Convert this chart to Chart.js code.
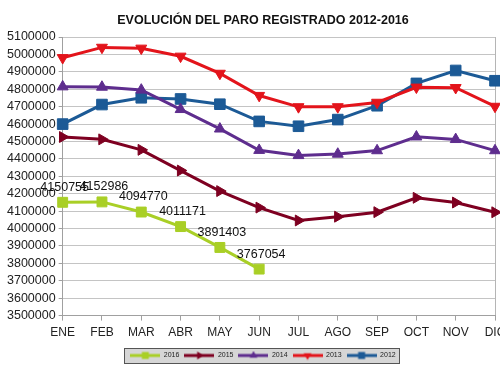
<!DOCTYPE html>
<html>
<head>
<meta charset="utf-8">
<script src="https://cdn.jsdelivr.net/npm/chart.js@4.4.1/dist/chart.umd.min.js"></script>
<style>
html,body{margin:0;padding:0;overflow:hidden;background:#fff;}
#wrap{width:522px;height:380px;}
</style>
</head>
<body>
<div id="wrap"><canvas id="c" width="522" height="380"></canvas></div>
<script>
const months = ['ENE','FEB','MAR','ABR','MAY','JUN','JUL','AGO','SEP','OCT','NOV','DIC'];
const seriesNames = ['2016','2015','2014','2013','2012'];
const v2016 = [4150755, 4152986, 4094770, 4011171, 3891403, 3767054];
const v2015 = [4525691, 4512153, 4451939, 4333016, 4215031, 4120304, 4046276, 4067955, 4094042, 4176369, 4149298, 4093508];
const v2014 = [4814435, 4812486, 4795866, 4684301, 4572385, 4449701, 4419860, 4427930, 4447650, 4526804, 4512000, 4447711];
const v2013 = [4980778, 5040222, 5035243, 4989193, 4890928, 4763680, 4698783, 4698814, 4724355, 4811383, 4808908, 4701338];
const v2012 = [4599829, 4712098, 4750867, 4744235, 4714122, 4615269, 4587455, 4625634, 4705279, 4833521, 4907817, 4848723];
const yTicksMin = 3500000, yTicksMax = 5100000, yStep = 100000;

const colors = ['#a9cf26', '#7e0021', '#5e2d8e', '#e3141b', '#1c5a96'];
const styles = [
  {ps: 'rect', rot: 0, r: 7},
  {ps: 'triangle', rot: 90, r: 6.3},
  {ps: 'triangle', rot: 0, r: 6.3},
  {ps: 'triangle', rot: 180, r: 6.3},
  {ps: 'rect', rot: 0, r: 7.5}
];
const allValues = [v2016, v2015, v2014, v2013, v2012];

function legendImage(color, st) {
  const cv = document.createElement('canvas');
  cv.width = 30; cv.height = 10;
  const g = cv.getContext('2d');
  g.strokeStyle = color; g.lineWidth = 3;
  g.beginPath(); g.moveTo(0, 5); g.lineTo(30, 5); g.stroke();
  g.fillStyle = color;
  const cx = 15, cy = 5, r = 3.5;
  g.beginPath();
  if (st.ps === 'rect') {
    g.rect(cx - r, cy - r, 2 * r, 2 * r);
  } else {
    let a = st.rot * Math.PI / 180;
    for (let k = 0; k < 3; k++) {
      const px = cx + Math.sin(a) * (r + 1), py = cy - Math.cos(a) * (r + 1);
      if (k === 0) g.moveTo(px, py); else g.lineTo(px, py);
      a += 2 * Math.PI / 3;
    }
    g.closePath();
  }
  g.fill();
  return cv;
}
const legendImgs = colors.map((c, i) => legendImage(c, styles[i]));

const datasets = seriesNames.map((n, i) => ({
  label: n,
  data: allValues[i],
  borderColor: colors[i],
  backgroundColor: colors[i],
  borderWidth: 3,
  pointStyle: styles[i].ps,
  rotation: styles[i].rot,
  pointRadius: styles[i].r,
  pointBorderWidth: 1,
  pointBackgroundColor: colors[i],
  pointBorderColor: colors[i],
  tension: 0,
  fill: false
}));

const legendBoxPlugin = {
  id: 'legendBox',
  beforeDraw(chart) {
    const lg = chart.legend;
    if (!lg || !lg.legendHitBoxes || !lg.legendHitBoxes.length) return;
    const hb = lg.legendHitBoxes;
    let l = Infinity, r = -Infinity, t = Infinity, b = -Infinity;
    hb.forEach(h => { l = Math.min(l, h.left); r = Math.max(r, h.left + h.width); t = Math.min(t, h.top); b = Math.max(b, h.top + h.height); });
    const ctx = chart.ctx;
    ctx.save();
    ctx.fillStyle = '#d6d6d6';
    ctx.strokeStyle = '#555';
    ctx.lineWidth = 1;
    const x0 = Math.round(l - 6) + 0.5, y0 = Math.round(t - 4) + 0.5;
    const w = Math.round(r - l + 10), h = Math.round(b - t + 8);
    ctx.fillRect(x0, y0, w, h);
    ctx.strokeRect(x0, y0, w, h);
    ctx.restore();
  }
};

const dataLabelPlugin = {
  id: 'dataLabels2016',
  afterDatasetsDraw(chart) {
    const meta = chart.getDatasetMeta(0);
    const ctx = chart.ctx;
    ctx.save();
    ctx.font = '12.5px "Liberation Sans", Arial, sans-serif';
    ctx.fillStyle = '#111';
    ctx.textAlign = 'center';
    ctx.textBaseline = 'middle';
    meta.data.forEach((pt, i) => {
      ctx.fillText(String(v2016[i]), pt.x + 2, pt.y - 15);
    });
    ctx.restore();
  }
};

new Chart(document.getElementById('c'), {
  type: 'line',
  data: { labels: months, datasets },
  plugins: [legendBoxPlugin, dataLabelPlugin],
  options: {
    responsive: false,
    animation: false,
    devicePixelRatio: 1,
    layout: { padding: { left: 4, top: 0, bottom: 11 } },
    plugins: {
      title: {
        display: true,
        text: 'EVOLUCIÓN DEL PARO REGISTRADO 2012-2016',
        color: '#111',
        font: { family: '"Liberation Sans", Arial, sans-serif', size: 12.5, weight: 'bold' },
        padding: { top: 13, bottom: 9 }
      },
      legend: {
        position: 'bottom',
        labels: {
          usePointStyle: true,
          pointStyleWidth: 30,
          boxHeight: 7,
          padding: 5,
          color: '#222',
          font: { family: '"Liberation Sans", Arial, sans-serif', size: 7 },
          generateLabels(chart) {
            return chart.data.datasets.map((ds, i) => ({
              text: ds.label,
              fillStyle: ds.borderColor,
              strokeStyle: ds.borderColor,
              lineWidth: 0,
              pointStyle: legendImgs[i],
              rotation: 0,
              hidden: false,
              datasetIndex: i,
              fontColor: '#222'
            }));
          }
        }
      },
      tooltip: { enabled: false }
    },
    scales: {
      x: {
        offset: false,
        grid: {
          display: true,
          drawOnChartArea: true,
          color: (ctx) => (ctx.index === 11 ? '#b5b5b5' : 'rgba(0,0,0,0)'),
          tickColor: '#a0a0a0',
          tickLength: 5
        },
        border: { display: true, color: '#a0a0a0' },
        ticks: {
          color: '#222',
          font: { family: '"Liberation Sans", Arial, sans-serif', size: 12 },
          padding: 5,
          maxRotation: 0,
          autoSkip: false
        },
        afterFit(scale) { scale.paddingRight = 27; scale.height += 2; }
      },
      y: {
        min: yTicksMin,
        max: yTicksMax,
        grid: { color: '#c4c4c4', tickColor: '#a0a0a0', tickLength: 4 },
        border: { display: true, color: '#a0a0a0' },
        ticks: {
          stepSize: yStep,
          autoSkip: false,
          color: '#222',
          padding: 3,
          font: { family: '"Liberation Sans", Arial, sans-serif', size: 12.5 },
          callback: (v) => String(v)
        }
      }
    }
  }
});
</script>
</body>
</html>
